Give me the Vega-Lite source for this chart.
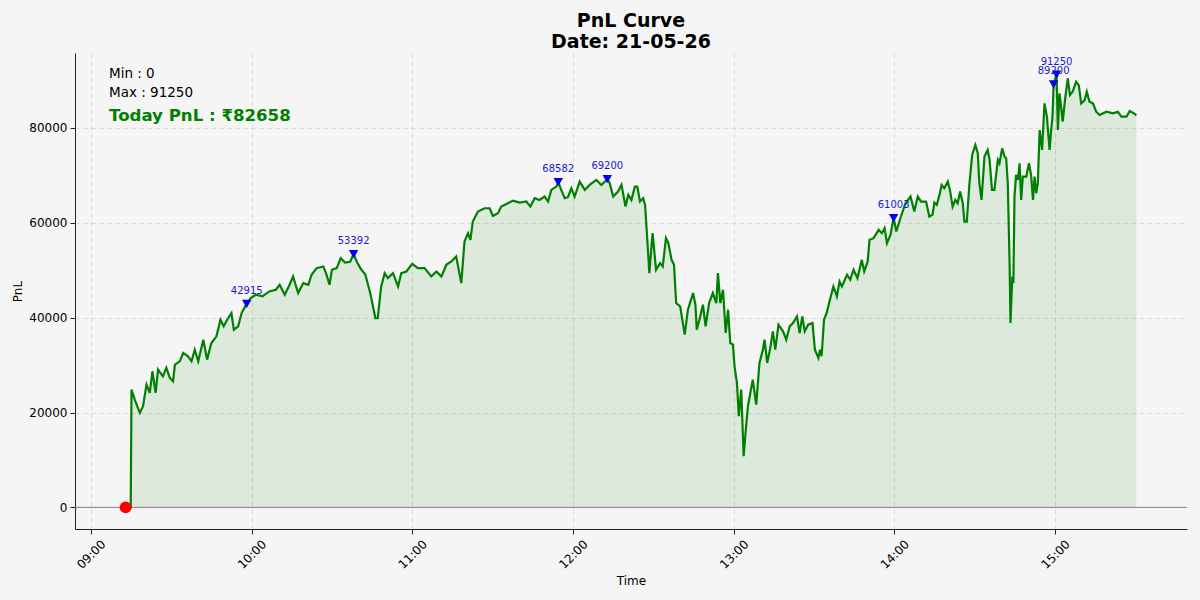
{
  "$schema": "https://vega.github.io/schema/vega-lite/v6.json",
  "width": 1112,
  "height": 476,
  "autosize": {"type": "none"},
  "padding": {"left": 75, "top": 53, "right": 13, "bottom": 71},
  "background": "#f5f5f5",
  "title": {
    "text": ["PnL Curve", "Date: 21-05-26"],
    "fontSize": 19,
    "fontWeight": "bold",
    "font": "DejaVu Sans",
    "color": "black",
    "anchor": "middle",
    "lineHeight": 21,
    "offset": 1
  },
  "config": {
    "view": {"stroke": null},
    "font": "DejaVu Sans",
    "axis": {
      "domainColor": "#222222",
      "tickColor": "#222222",
      "labelColor": "black",
      "labelFont": "DejaVu Sans",
      "labelFontSize": 12,
      "titleFont": "DejaVu Sans",
      "titleFontSize": 12,
      "titleFontWeight": "normal",
      "titleColor": "black",
      "tickSize": 5,
      "gridColor": "#b0b0b0",
      "gridOpacity": 0.45,
      "gridDash": [5, 3],
      "gridWidth": 0.8
    }
  },
  "data": {
    "values": [
      {"t": "2026-05-21T09:13:00", "pnl": 0},
      {"t": "2026-05-21T09:14:54", "pnl": 0},
      {"t": "2026-05-21T09:15:12", "pnl": 24840},
      {"t": "2026-05-21T09:16:24", "pnl": 22730},
      {"t": "2026-05-21T09:18:18", "pnl": 19930},
      {"t": "2026-05-21T09:19:30", "pnl": 21330},
      {"t": "2026-05-21T09:20:48", "pnl": 25890},
      {"t": "2026-05-21T09:22:00", "pnl": 24140},
      {"t": "2026-05-21T09:23:00", "pnl": 28700},
      {"t": "2026-05-21T09:24:12", "pnl": 24140},
      {"t": "2026-05-21T09:25:06", "pnl": 29050},
      {"t": "2026-05-21T09:26:54", "pnl": 27640},
      {"t": "2026-05-21T09:28:12", "pnl": 29400},
      {"t": "2026-05-21T09:29:30", "pnl": 27290},
      {"t": "2026-05-21T09:30:42", "pnl": 26590},
      {"t": "2026-05-21T09:31:24", "pnl": 30100},
      {"t": "2026-05-21T09:33:12", "pnl": 30800},
      {"t": "2026-05-21T09:34:30", "pnl": 32560},
      {"t": "2026-05-21T09:36:18", "pnl": 31860},
      {"t": "2026-05-21T09:37:36", "pnl": 30800},
      {"t": "2026-05-21T09:38:48", "pnl": 33260},
      {"t": "2026-05-21T09:40:06", "pnl": 30800},
      {"t": "2026-05-21T09:42:00", "pnl": 35360},
      {"t": "2026-05-21T09:43:24", "pnl": 31150},
      {"t": "2026-05-21T09:45:00", "pnl": 34660},
      {"t": "2026-05-21T09:46:54", "pnl": 36070},
      {"t": "2026-05-21T09:48:24", "pnl": 39570},
      {"t": "2026-05-21T09:49:36", "pnl": 38170},
      {"t": "2026-05-21T09:50:54", "pnl": 39570},
      {"t": "2026-05-21T09:52:30", "pnl": 40980},
      {"t": "2026-05-21T09:53:24", "pnl": 37470},
      {"t": "2026-05-21T09:55:00", "pnl": 38170},
      {"t": "2026-05-21T09:56:18", "pnl": 40980},
      {"t": "2026-05-21T09:57:36", "pnl": 42380},
      {"t": "2026-05-21T09:58:12", "pnl": 42915},
      {"t": "2026-05-21T09:59:42", "pnl": 44130},
      {"t": "2026-05-21T10:01:36", "pnl": 44840},
      {"t": "2026-05-21T10:04:06", "pnl": 44490},
      {"t": "2026-05-21T10:06:36", "pnl": 45540},
      {"t": "2026-05-21T10:09:06", "pnl": 45890},
      {"t": "2026-05-21T10:10:30", "pnl": 46940},
      {"t": "2026-05-21T10:12:24", "pnl": 44840},
      {"t": "2026-05-21T10:14:12", "pnl": 46940},
      {"t": "2026-05-21T10:15:30", "pnl": 48690},
      {"t": "2026-05-21T10:17:24", "pnl": 45190},
      {"t": "2026-05-21T10:19:18", "pnl": 47290},
      {"t": "2026-05-21T10:21:12", "pnl": 46940},
      {"t": "2026-05-21T10:22:24", "pnl": 49050},
      {"t": "2026-05-21T10:24:18", "pnl": 50450},
      {"t": "2026-05-21T10:26:48", "pnl": 50800},
      {"t": "2026-05-21T10:27:48", "pnl": 49400},
      {"t": "2026-05-21T10:29:06", "pnl": 46940},
      {"t": "2026-05-21T10:30:00", "pnl": 50100},
      {"t": "2026-05-21T10:31:48", "pnl": 50450},
      {"t": "2026-05-21T10:33:18", "pnl": 52560},
      {"t": "2026-05-21T10:34:54", "pnl": 51640},
      {"t": "2026-05-21T10:36:48", "pnl": 51800},
      {"t": "2026-05-21T10:38:06", "pnl": 53392},
      {"t": "2026-05-21T10:39:18", "pnl": 51800},
      {"t": "2026-05-21T10:40:36", "pnl": 50450},
      {"t": "2026-05-21T10:42:30", "pnl": 49050},
      {"t": "2026-05-21T10:44:18", "pnl": 45190},
      {"t": "2026-05-21T10:45:36", "pnl": 41680},
      {"t": "2026-05-21T10:46:12", "pnl": 39920},
      {"t": "2026-05-21T10:47:06", "pnl": 39920},
      {"t": "2026-05-21T10:48:24", "pnl": 46590},
      {"t": "2026-05-21T10:49:42", "pnl": 49400},
      {"t": "2026-05-21T10:50:54", "pnl": 48340},
      {"t": "2026-05-21T10:52:48", "pnl": 49400},
      {"t": "2026-05-21T10:54:42", "pnl": 46590},
      {"t": "2026-05-21T10:55:54", "pnl": 49400},
      {"t": "2026-05-21T10:57:48", "pnl": 49750},
      {"t": "2026-05-21T11:00:00", "pnl": 51360},
      {"t": "2026-05-21T11:02:06", "pnl": 50450},
      {"t": "2026-05-21T11:04:36", "pnl": 50450},
      {"t": "2026-05-21T11:07:06", "pnl": 48690},
      {"t": "2026-05-21T11:09:00", "pnl": 49750},
      {"t": "2026-05-21T11:10:54", "pnl": 48690},
      {"t": "2026-05-21T11:12:42", "pnl": 51150},
      {"t": "2026-05-21T11:14:36", "pnl": 51850},
      {"t": "2026-05-21T11:16:24", "pnl": 52900},
      {"t": "2026-05-21T11:18:18", "pnl": 47290},
      {"t": "2026-05-21T11:19:30", "pnl": 56060},
      {"t": "2026-05-21T11:20:48", "pnl": 57820},
      {"t": "2026-05-21T11:21:42", "pnl": 56410},
      {"t": "2026-05-21T11:22:36", "pnl": 60270},
      {"t": "2026-05-21T11:24:30", "pnl": 62380},
      {"t": "2026-05-21T11:27:00", "pnl": 63080},
      {"t": "2026-05-21T11:28:54", "pnl": 63080},
      {"t": "2026-05-21T11:30:06", "pnl": 61470},
      {"t": "2026-05-21T11:32:00", "pnl": 62030},
      {"t": "2026-05-21T11:33:12", "pnl": 63430},
      {"t": "2026-05-21T11:35:42", "pnl": 64130},
      {"t": "2026-05-21T11:37:36", "pnl": 64690},
      {"t": "2026-05-21T11:40:06", "pnl": 64270},
      {"t": "2026-05-21T11:42:36", "pnl": 64500},
      {"t": "2026-05-21T11:44:06", "pnl": 63430},
      {"t": "2026-05-21T11:45:42", "pnl": 65190},
      {"t": "2026-05-21T11:47:30", "pnl": 64830},
      {"t": "2026-05-21T11:49:24", "pnl": 65540},
      {"t": "2026-05-21T11:50:42", "pnl": 64500},
      {"t": "2026-05-21T11:51:54", "pnl": 66940},
      {"t": "2026-05-21T11:53:48", "pnl": 67640},
      {"t": "2026-05-21T11:54:30", "pnl": 68582},
      {"t": "2026-05-21T11:55:36", "pnl": 66940},
      {"t": "2026-05-21T11:56:54", "pnl": 65190},
      {"t": "2026-05-21T11:58:06", "pnl": 65400},
      {"t": "2026-05-21T11:59:24", "pnl": 67290},
      {"t": "2026-05-21T12:00:36", "pnl": 65540},
      {"t": "2026-05-21T12:02:30", "pnl": 68690},
      {"t": "2026-05-21T12:04:24", "pnl": 66940},
      {"t": "2026-05-21T12:06:12", "pnl": 67990},
      {"t": "2026-05-21T12:08:42", "pnl": 69040},
      {"t": "2026-05-21T12:10:36", "pnl": 67990},
      {"t": "2026-05-21T12:12:48", "pnl": 69200},
      {"t": "2026-05-21T12:13:42", "pnl": 68340},
      {"t": "2026-05-21T12:15:00", "pnl": 65540},
      {"t": "2026-05-21T12:16:48", "pnl": 66590},
      {"t": "2026-05-21T12:18:06", "pnl": 67990},
      {"t": "2026-05-21T12:19:36", "pnl": 63430},
      {"t": "2026-05-21T12:20:36", "pnl": 65890},
      {"t": "2026-05-21T12:21:48", "pnl": 64830},
      {"t": "2026-05-21T12:23:06", "pnl": 67640},
      {"t": "2026-05-21T12:24:00", "pnl": 67640},
      {"t": "2026-05-21T12:25:00", "pnl": 64500},
      {"t": "2026-05-21T12:26:12", "pnl": 65190},
      {"t": "2026-05-21T12:26:54", "pnl": 63780},
      {"t": "2026-05-21T12:27:30", "pnl": 58520},
      {"t": "2026-05-21T12:28:30", "pnl": 49400},
      {"t": "2026-05-21T12:29:42", "pnl": 57820},
      {"t": "2026-05-21T12:31:00", "pnl": 50100},
      {"t": "2026-05-21T12:32:30", "pnl": 51500},
      {"t": "2026-05-21T12:33:30", "pnl": 50800},
      {"t": "2026-05-21T12:34:42", "pnl": 56760},
      {"t": "2026-05-21T12:35:36", "pnl": 55710},
      {"t": "2026-05-21T12:36:48", "pnl": 52200},
      {"t": "2026-05-21T12:37:42", "pnl": 51150},
      {"t": "2026-05-21T12:38:30", "pnl": 43080},
      {"t": "2026-05-21T12:40:00", "pnl": 42380},
      {"t": "2026-05-21T12:41:42", "pnl": 36420},
      {"t": "2026-05-21T12:42:54", "pnl": 41680},
      {"t": "2026-05-21T12:44:48", "pnl": 45190},
      {"t": "2026-05-21T12:45:42", "pnl": 42730},
      {"t": "2026-05-21T12:46:12", "pnl": 37470},
      {"t": "2026-05-21T12:47:30", "pnl": 40280},
      {"t": "2026-05-21T12:48:30", "pnl": 42730},
      {"t": "2026-05-21T12:49:30", "pnl": 38170},
      {"t": "2026-05-21T12:50:48", "pnl": 43080},
      {"t": "2026-05-21T12:52:12", "pnl": 45190},
      {"t": "2026-05-21T12:53:30", "pnl": 43080},
      {"t": "2026-05-21T12:54:06", "pnl": 49400},
      {"t": "2026-05-21T12:55:00", "pnl": 43080},
      {"t": "2026-05-21T12:56:00", "pnl": 45890},
      {"t": "2026-05-21T12:57:00", "pnl": 36770},
      {"t": "2026-05-21T12:57:54", "pnl": 41680},
      {"t": "2026-05-21T12:58:42", "pnl": 34660},
      {"t": "2026-05-21T12:59:42", "pnl": 34310},
      {"t": "2026-05-21T13:00:18", "pnl": 29750},
      {"t": "2026-05-21T13:01:12", "pnl": 26240},
      {"t": "2026-05-21T13:01:54", "pnl": 19230},
      {"t": "2026-05-21T13:02:48", "pnl": 24840},
      {"t": "2026-05-21T13:03:42", "pnl": 10810},
      {"t": "2026-05-21T13:04:24", "pnl": 15720},
      {"t": "2026-05-21T13:05:18", "pnl": 21330},
      {"t": "2026-05-21T13:06:12", "pnl": 24140},
      {"t": "2026-05-21T13:07:06", "pnl": 26940},
      {"t": "2026-05-21T13:08:24", "pnl": 21680},
      {"t": "2026-05-21T13:09:36", "pnl": 30450},
      {"t": "2026-05-21T13:10:54", "pnl": 33260},
      {"t": "2026-05-21T13:11:30", "pnl": 35360},
      {"t": "2026-05-21T13:12:30", "pnl": 30450},
      {"t": "2026-05-21T13:13:36", "pnl": 33470},
      {"t": "2026-05-21T13:14:36", "pnl": 37120},
      {"t": "2026-05-21T13:15:30", "pnl": 33260},
      {"t": "2026-05-21T13:16:42", "pnl": 38520},
      {"t": "2026-05-21T13:18:24", "pnl": 37120},
      {"t": "2026-05-21T13:19:36", "pnl": 35360},
      {"t": "2026-05-21T13:20:54", "pnl": 38170},
      {"t": "2026-05-21T13:22:06", "pnl": 38870},
      {"t": "2026-05-21T13:23:36", "pnl": 40280},
      {"t": "2026-05-21T13:24:36", "pnl": 36770},
      {"t": "2026-05-21T13:25:36", "pnl": 40280},
      {"t": "2026-05-21T13:26:30", "pnl": 37120},
      {"t": "2026-05-21T13:27:48", "pnl": 38520},
      {"t": "2026-05-21T13:29:24", "pnl": 38870},
      {"t": "2026-05-21T13:30:18", "pnl": 33260},
      {"t": "2026-05-21T13:31:36", "pnl": 31510},
      {"t": "2026-05-21T13:32:12", "pnl": 33260},
      {"t": "2026-05-21T13:32:48", "pnl": 31860},
      {"t": "2026-05-21T13:33:42", "pnl": 39570},
      {"t": "2026-05-21T13:34:42", "pnl": 40980},
      {"t": "2026-05-21T13:35:36", "pnl": 43080},
      {"t": "2026-05-21T13:37:12", "pnl": 46590},
      {"t": "2026-05-21T13:38:30", "pnl": 44490},
      {"t": "2026-05-21T13:39:30", "pnl": 47640},
      {"t": "2026-05-21T13:40:24", "pnl": 46590},
      {"t": "2026-05-21T13:42:18", "pnl": 49050},
      {"t": "2026-05-21T13:43:30", "pnl": 47990},
      {"t": "2026-05-21T13:44:42", "pnl": 50100},
      {"t": "2026-05-21T13:46:12", "pnl": 48340},
      {"t": "2026-05-21T13:47:48", "pnl": 52200},
      {"t": "2026-05-21T13:48:42", "pnl": 49750},
      {"t": "2026-05-21T13:50:00", "pnl": 51850},
      {"t": "2026-05-21T13:50:42", "pnl": 56410},
      {"t": "2026-05-21T13:52:12", "pnl": 56760},
      {"t": "2026-05-21T13:54:06", "pnl": 58520},
      {"t": "2026-05-21T13:55:18", "pnl": 57820},
      {"t": "2026-05-21T13:56:18", "pnl": 58870},
      {"t": "2026-05-21T13:57:12", "pnl": 55710},
      {"t": "2026-05-21T13:58:30", "pnl": 57470},
      {"t": "2026-05-21T13:59:42", "pnl": 61003},
      {"t": "2026-05-21T14:00:42", "pnl": 58170},
      {"t": "2026-05-21T14:02:12", "pnl": 60970},
      {"t": "2026-05-21T14:04:06", "pnl": 64130},
      {"t": "2026-05-21T14:06:00", "pnl": 65540},
      {"t": "2026-05-21T14:07:24", "pnl": 62380},
      {"t": "2026-05-21T14:08:42", "pnl": 65540},
      {"t": "2026-05-21T14:09:54", "pnl": 64480},
      {"t": "2026-05-21T14:11:48", "pnl": 64480},
      {"t": "2026-05-21T14:13:00", "pnl": 61330},
      {"t": "2026-05-21T14:14:12", "pnl": 61680},
      {"t": "2026-05-21T14:14:54", "pnl": 64270},
      {"t": "2026-05-21T14:15:48", "pnl": 63780},
      {"t": "2026-05-21T14:16:48", "pnl": 65890},
      {"t": "2026-05-21T14:17:36", "pnl": 67990},
      {"t": "2026-05-21T14:18:36", "pnl": 67290},
      {"t": "2026-05-21T14:19:54", "pnl": 68690},
      {"t": "2026-05-21T14:20:42", "pnl": 66940},
      {"t": "2026-05-21T14:21:42", "pnl": 63430},
      {"t": "2026-05-21T14:22:42", "pnl": 64830},
      {"t": "2026-05-21T14:23:36", "pnl": 64130},
      {"t": "2026-05-21T14:24:30", "pnl": 66590},
      {"t": "2026-05-21T14:25:30", "pnl": 64130},
      {"t": "2026-05-21T14:26:06", "pnl": 60270},
      {"t": "2026-05-21T14:27:00", "pnl": 60270},
      {"t": "2026-05-21T14:28:00", "pnl": 68340},
      {"t": "2026-05-21T14:29:00", "pnl": 74310},
      {"t": "2026-05-21T14:30:12", "pnl": 76410},
      {"t": "2026-05-21T14:31:06", "pnl": 74660},
      {"t": "2026-05-21T14:31:42", "pnl": 68340},
      {"t": "2026-05-21T14:32:30", "pnl": 64830},
      {"t": "2026-05-21T14:33:36", "pnl": 73960},
      {"t": "2026-05-21T14:34:48", "pnl": 75360},
      {"t": "2026-05-21T14:35:30", "pnl": 73260},
      {"t": "2026-05-21T14:36:24", "pnl": 66940},
      {"t": "2026-05-21T14:37:18", "pnl": 66940},
      {"t": "2026-05-21T14:38:36", "pnl": 73260},
      {"t": "2026-05-21T14:39:12", "pnl": 72560},
      {"t": "2026-05-21T14:40:12", "pnl": 75710},
      {"t": "2026-05-21T14:41:06", "pnl": 73960},
      {"t": "2026-05-21T14:41:42", "pnl": 73610},
      {"t": "2026-05-21T14:42:18", "pnl": 68340},
      {"t": "2026-05-21T14:43:00", "pnl": 50800},
      {"t": "2026-05-21T14:43:18", "pnl": 38870},
      {"t": "2026-05-21T14:44:00", "pnl": 48690},
      {"t": "2026-05-21T14:44:24", "pnl": 47290},
      {"t": "2026-05-21T14:44:48", "pnl": 65540},
      {"t": "2026-05-21T14:45:24", "pnl": 70100},
      {"t": "2026-05-21T14:46:06", "pnl": 69040},
      {"t": "2026-05-21T14:46:42", "pnl": 72560},
      {"t": "2026-05-21T14:47:18", "pnl": 64830},
      {"t": "2026-05-21T14:47:54", "pnl": 69740},
      {"t": "2026-05-21T14:49:12", "pnl": 69740},
      {"t": "2026-05-21T14:50:12", "pnl": 72560},
      {"t": "2026-05-21T14:51:00", "pnl": 70100},
      {"t": "2026-05-21T14:51:42", "pnl": 64830},
      {"t": "2026-05-21T14:52:18", "pnl": 69740},
      {"t": "2026-05-21T14:52:54", "pnl": 66240},
      {"t": "2026-05-21T14:53:30", "pnl": 68340},
      {"t": "2026-05-21T14:54:12", "pnl": 79570},
      {"t": "2026-05-21T14:55:06", "pnl": 75360},
      {"t": "2026-05-21T14:56:00", "pnl": 85180},
      {"t": "2026-05-21T14:56:54", "pnl": 82380},
      {"t": "2026-05-21T14:57:54", "pnl": 75360},
      {"t": "2026-05-21T14:58:30", "pnl": 79570},
      {"t": "2026-05-21T14:59:00", "pnl": 82380},
      {"t": "2026-05-21T14:59:24", "pnl": 89200},
      {"t": "2026-05-21T15:00:30", "pnl": 91250},
      {"t": "2026-05-21T15:01:00", "pnl": 79570},
      {"t": "2026-05-21T15:01:36", "pnl": 87290},
      {"t": "2026-05-21T15:02:12", "pnl": 84480},
      {"t": "2026-05-21T15:02:48", "pnl": 81330},
      {"t": "2026-05-21T15:03:48", "pnl": 86590},
      {"t": "2026-05-21T15:04:42", "pnl": 90440},
      {"t": "2026-05-21T15:05:30", "pnl": 86940},
      {"t": "2026-05-21T15:06:30", "pnl": 87640},
      {"t": "2026-05-21T15:07:48", "pnl": 89740},
      {"t": "2026-05-21T15:08:48", "pnl": 89040},
      {"t": "2026-05-21T15:09:42", "pnl": 85180},
      {"t": "2026-05-21T15:11:00", "pnl": 85880},
      {"t": "2026-05-21T15:11:48", "pnl": 87640},
      {"t": "2026-05-21T15:12:48", "pnl": 85530},
      {"t": "2026-05-21T15:14:06", "pnl": 85180},
      {"t": "2026-05-21T15:15:18", "pnl": 83430},
      {"t": "2026-05-21T15:16:36", "pnl": 82730},
      {"t": "2026-05-21T15:19:06", "pnl": 83430},
      {"t": "2026-05-21T15:21:36", "pnl": 83080},
      {"t": "2026-05-21T15:23:24", "pnl": 83430},
      {"t": "2026-05-21T15:24:42", "pnl": 82380},
      {"t": "2026-05-21T15:26:36", "pnl": 82380},
      {"t": "2026-05-21T15:27:48", "pnl": 83570},
      {"t": "2026-05-21T15:29:24", "pnl": 83080},
      {"t": "2026-05-21T15:30:18", "pnl": 82658}
    ]
  },
  "encoding": {
    "x": {
      "field": "t",
      "type": "temporal",
      "title": "Time",
      "scale": {
        "domain": [
          {"year": 2026, "month": 5, "date": 21, "hours": 8, "minutes": 54, "seconds": 6},
          {"year": 2026, "month": 5, "date": 21, "hours": 15, "minutes": 49, "seconds": 12}
        ],
        "nice": false
      },
      "axis": {
        "format": "%H:%M",
        "values": [
          {"year": 2026, "month": 5, "date": 21, "hours": 9},
          {"year": 2026, "month": 5, "date": 21, "hours": 10},
          {"year": 2026, "month": 5, "date": 21, "hours": 11},
          {"year": 2026, "month": 5, "date": 21, "hours": 12},
          {"year": 2026, "month": 5, "date": 21, "hours": 13},
          {"year": 2026, "month": 5, "date": 21, "hours": 14},
          {"year": 2026, "month": 5, "date": 21, "hours": 15}
        ],
        "labelAngle": -45,
        "labelAlign": "center",
        "labelBaseline": "middle",
        "labelPadding": 20,
        "titlePadding": 5
      }
    },
    "y": {
      "field": "pnl",
      "type": "quantitative",
      "title": "PnL",
      "scale": {"domain": [-4562.5, 95812.5], "nice": false, "zero": false},
      "axis": {
        "values": [0, 20000, 40000, 60000, 80000],
        "format": "d",
        "labelPadding": 3,
        "titlePadding": 4
      }
    }
  },
  "layer": [
    {
      "mark": {"type": "area", "color": "green", "opacity": 0.1},
      "encoding": {}
    },
    {
      "data": {"values": [{"t": "2026-05-21T08:54:06", "t2": "2026-05-21T15:49:12", "pnl": 0}]},
      "mark": {"type": "rule", "color": "#808080", "strokeWidth": 1},
      "encoding": {"x2": {"field": "t2"}}
    },
    {
      "mark": {"type": "line", "color": "green", "strokeWidth": 2.2},
      "encoding": {}
    },
    {
      "data": {
        "values": [
          {"t": "2026-05-21T09:58:12", "pnl": 42915},
          {"t": "2026-05-21T10:38:06", "pnl": 53392},
          {"t": "2026-05-21T11:54:30", "pnl": 68582},
          {"t": "2026-05-21T12:12:48", "pnl": 69200},
          {"t": "2026-05-21T13:59:42", "pnl": 61003},
          {"t": "2026-05-21T14:59:24", "pnl": 89200},
          {"t": "2026-05-21T15:00:30", "pnl": 91250}
        ]
      },
      "layer": [
        {
          "mark": {"type": "point", "shape": "triangle-down", "filled": true, "color": "#0000ee", "opacity": 1, "size": 90},
          "encoding": {}
        },
        {
          "mark": {"type": "text", "color": "#1a1acc", "fontSize": 10, "dy": -10, "baseline": "alphabetic"},
          "encoding": {"text": {"field": "pnl", "type": "quantitative", "format": "d"}}
        }
      ]
    },
    {
      "data": {"values": [{"t": "2026-05-21T09:13:00", "pnl": 0}]},
      "mark": {"type": "point", "shape": "circle", "filled": true, "color": "red", "opacity": 1, "size": 140},
      "encoding": {}
    },
    {
      "data": {
        "values": [
          {"t": "2026-05-21T09:06:48", "pnl": 90580, "note": "Min : 0"},
          {"t": "2026-05-21T09:06:48", "pnl": 86580, "note": "Max : 91250"}
        ]
      },
      "mark": {"type": "text", "align": "left", "baseline": "alphabetic", "fontSize": 13.5, "color": "black"},
      "encoding": {"text": {"field": "note", "type": "nominal"}}
    },
    {
      "data": {"values": [{"t": "2026-05-21T09:06:48", "pnl": 81530, "note": "Today PnL : ₹82658"}]},
      "mark": {"type": "text", "align": "left", "baseline": "alphabetic", "fontSize": 16.6, "fontWeight": "bold", "color": "green"},
      "encoding": {"text": {"field": "note", "type": "nominal"}}
    }
  ]
}
